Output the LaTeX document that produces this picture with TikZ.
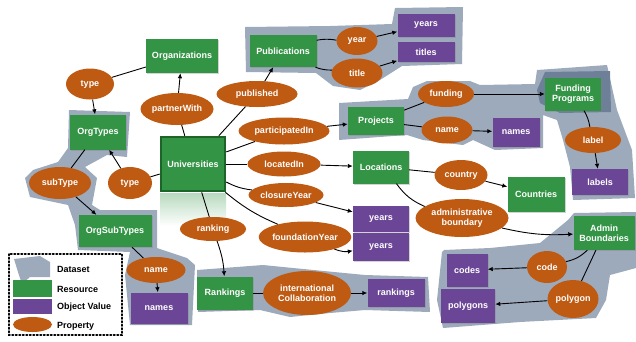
\documentclass[tikz,border=0pt]{standalone}
\usepackage{fontspec}
\setmainfont{Liberation Sans}
\usetikzlibrary{arrows.meta,shapes.geometric,shadows}
\definecolor{resgreen}{RGB}{52,148,70}
\definecolor{unigreen}{RGB}{28,100,40}
\definecolor{valpurple}{RGB}{108,70,150}
\definecolor{proporange}{RGB}{190,90,18}
\definecolor{blobgray}{RGB}{156,170,188}
\definecolor{blobdark}{RGB}{110,128,152}
\tikzset{
  lbl/.style={font=\fontsize{9}{10}\selectfont\bfseries, text=white, align=center, inner sep=1pt},
  res/.style={lbl, rectangle, fill=resgreen, drop shadow={shadow xshift=1pt,shadow yshift=-1pt,opacity=0.35}},
  val/.style={lbl, rectangle, fill=valpurple, drop shadow={shadow xshift=1pt,shadow yshift=-1pt,opacity=0.35}},
  prop/.style={lbl, ellipse, fill=proporange, inner sep=0pt},
  blob/.style={fill=blobgray, draw=none},
  link/.style={draw=black, line width=0.9pt},
  arr/.style={link, -{Latex[length=5pt,width=4.5pt]}},
  legtext/.style={font=\fontsize{9}{10}\selectfont\bfseries, anchor=west, inner sep=0pt}
}
\begin{document}
\begin{tikzpicture}[x=1pt,y=-1pt]
  \useasboundingbox (0,0) rectangle (636,341);
  % datasets
  \fill[blob] (245,27) -- (330,26) -- (392,24) -- (395,8) -- (463,7) -- (462,64) -- (402,66)
    -- (380,80) -- (360,90) -- (333,86) -- (316,73) -- (246,72) -- cycle;
  \fill[blob] (339,103) -- (408,99) -- (413,87) -- (427,81) -- (470,81) -- (480,85) -- (535,84)
    -- (537,70) -- (607,65) -- (617,110) -- (632,150) -- (635,198) -- (573,200) -- (570,167)
    -- (563,140) -- (557,120) -- (543,115) -- (543,148) -- (495,150) -- (473,140) -- (463,145)
    -- (423,140) -- (407,135) -- (339,140) -- cycle;
  \fill[blobdark] (537,90) -- (545,72) -- (610,71) -- (611,112) -- (560,113) -- (540,103) -- cycle;
  \fill[blob] (69,110) -- (130,112) -- (127,157) -- (107,155) -- (85,167) -- (97,178) -- (92,205)
    -- (100,210) -- (157,210) -- (157,248) -- (187,258) -- (195,265) -- (192,325) -- (130,325)
    -- (125,275) -- (130,252) -- (78,250) -- (75,225) -- (68,205) -- (30,197) -- (25,178)
    -- (33,170) -- (58,162) -- (68,148) -- cycle;
  \fill[blob] (197,270) -- (263,265) -- (293,268) -- (365,275) -- (428,277) -- (430,312)
    -- (365,310) -- (330,313) -- (290,317) -- (260,310) -- (198,312) -- cycle;
  \fill[blob] (444,250) -- (490,248) -- (540,243) -- (568,220) -- (574,213) -- (636,212)
    -- (636,268) -- (610,275) -- (606,300) -- (596,318) -- (520,322) -- (443,328)
    -- (437,300) -- (442,252) -- cycle;
  % reflection under the universities
  \shade[top color=resgreen!35, bottom color=white] (160,193) rectangle (226,226);
  % resources
  \node[res, minimum width=72pt, minimum height=34pt] (org) at (182,56) {Organizations};
  \node[res, minimum width=67pt, minimum height=32pt] (pub) at (283,51) {Publications};
  \node[res, minimum width=56pt, minimum height=35pt] (orgtypes) at (98,132) {OrgTypes};
  \node[res, draw=unigreen, line width=2.5pt, minimum width=64pt, minimum height=54pt] (uni) at (193,164) {Universities};
  \node[res, minimum width=56pt, minimum height=28pt] (proj) at (376,121) {Projects};
  \node[res, minimum width=56pt, minimum height=33pt] (fund) at (573,94) {Funding\\Programs};
  \node[res, minimum width=56pt, minimum height=33pt] (loc) at (381,167) {Locations};
  \node[res, minimum width=57pt, minimum height=35pt] (countries) at (536,194) {Countries};
  \node[res, minimum width=73pt, minimum height=32pt] (orgsubtypes) at (115,231) {OrgSubTypes};
  \node[res, minimum width=56pt, minimum height=33pt] (rankings) at (225,293) {Rankings};
  \node[res, minimum width=61pt, minimum height=34pt] (admin) at (604,233) {Admin\\Boundaries};
  % object values
  \node[val, minimum width=57pt, minimum height=23pt] (vyears) at (426,25) {years};
  \node[val, minimum width=57pt, minimum height=20pt] (vtitles) at (426,52) {titles};
  \node[val, minimum width=47pt, minimum height=29pt] (vnames) at (516,132) {names};
  \node[val, minimum width=56pt, minimum height=26pt] (vlabels) at (600,182) {labels};
  \node[val, minimum width=56pt, minimum height=26pt] (vclosure) at (381,219) {years};
  \node[val, minimum width=56pt, minimum height=28pt] (vfound) at (381,247) {years};
  \node[val, minimum width=57pt, minimum height=31pt] (vsubnames) at (159,308) {names};
  \node[val, minimum width=57pt, minimum height=28pt] (vrankings) at (396,293) {rankings};
  \node[val, minimum width=41pt, minimum height=33pt] (vcodes) at (467,270) {codes};
  \node[val, minimum width=54pt, minimum height=34pt] (vpolygons) at (468,306) {polygons};
  % properties
  \node[prop, minimum width=48pt, minimum height=31pt] (ptypeA) at (90,84) {type};
  \node[prop, minimum width=73pt, minimum height=32pt] (ppartner) at (177,109) {partnerWith};
  \node[prop, minimum width=81pt, minimum height=26pt] (ppublished) at (257,94) {published};
  \node[prop, minimum width=41pt, minimum height=28pt] (pyear) at (357,41) {year};
  \node[prop, minimum width=51pt, minimum height=29pt] (ptitle) at (357,73) {title};
  \node[prop, minimum width=91pt, minimum height=27pt] (ppartic) at (284,131) {participatedIn};
  \node[prop, minimum width=56pt, minimum height=26pt] (pfunding) at (446,94) {funding};
  \node[prop, minimum width=51pt, minimum height=27pt] (pname) at (447,130) {name};
  \node[prop, minimum width=56pt, minimum height=26pt] (plabel) at (593,140) {label};
  \node[prop, minimum width=73pt, minimum height=25pt] (plocated) at (284,164) {locatedIn};
  \node[prop, minimum width=75pt, minimum height=24pt] (pclosure) at (286,195) {closureYear};
  \node[prop, minimum width=91pt, minimum height=31pt] (pfound) at (305,237) {foundationYear};
  \node[prop, minimum width=66pt, minimum height=24pt] (pranking) at (213,229) {ranking};
  \node[prop, minimum width=44pt, minimum height=32pt] (ptypeB) at (130,183) {type};
  \node[prop, minimum width=62pt, minimum height=32pt] (psubtype) at (60,183) {subType};
  \node[prop, minimum width=59pt, minimum height=26pt] (psubname) at (156,270) {name};
  \node[prop, minimum width=88pt, minimum height=44pt] (pintl) at (307,293) {international\\Collaboration};
  \node[prop, minimum width=53pt, minimum height=30pt] (pcountry) at (461,175) {country};
  \node[prop, minimum width=93pt, minimum height=38pt] (padmin) at (462,218) {administrative\\boundary};
  \node[prop, minimum width=40pt, minimum height=32pt] (pcode) at (547,267) {code};
  \node[prop, minimum width=51pt, minimum height=38pt] (ppolygon) at (573,299) {polygon};
  % connectors
  \draw[link] (org) -- (ptypeA);
  \draw[arr] (ptypeA) -- (orgtypes);
  \draw[link] (uni) -- (ppartner);
  \draw[arr] (ppartner) -- (org);
  \draw[link] (uni) -- (ppublished);
  \draw[arr] (ppublished) -- (pub);
  \draw[link] (pub) to[bend left=10] (pyear);
  \draw[arr] (pyear) -- (vyears);
  \draw[link] (pub) to[bend right=10] (ptitle);
  \draw[arr] (ptitle) -- (vtitles);
  \draw[link] (uni) -- (ppartic);
  \draw[arr] (ppartic) -- (proj);
  \draw[link] (proj) -- (pfunding);
  \draw[arr] (pfunding) -- (fund);
  \draw[link] (proj) -- (pname);
  \draw[arr] (pname) -- (vnames);
  \draw[link] (fund) to[bend left=10] (plabel);
  \draw[arr] (plabel) -- (vlabels);
  \draw[link] (uni) -- (plocated);
  \draw[arr] (plocated) -- (loc);
  \draw[link] (loc) -- (pcountry);
  \draw[arr] (pcountry) -- (countries);
  \draw[link] (loc) to[bend right=15] (padmin);
  \draw[arr] (padmin) to[bend right=8] (admin);
  \draw[link] (admin) to[bend left=15] (pcode);
  \draw[arr] (pcode) -- (vcodes);
  \draw[link] (admin) -- (ppolygon);
  \draw[arr] (ppolygon) -- (vpolygons);
  \draw[link] (uni) to[bend right=10] (pclosure);
  \draw[arr] (pclosure) -- (vclosure);
  \draw[link] (uni) to[bend right=8] (pfound);
  \draw[arr] (pfound) to[bend right=15] (vfound);
  \draw[link] (uni) -- (pranking);
  \draw[arr] (pranking) to[bend left=8] (rankings);
  \draw[link] (rankings) -- (pintl);
  \draw[arr] (pintl) -- (vrankings);
  \draw[link] (uni) -- (ptypeB);
  \draw[arr] (ptypeB) -- (orgtypes);
  \draw[link] (orgtypes) -- (psubtype);
  \draw[arr] (psubtype) -- (orgsubtypes);
  \draw[link] (orgsubtypes) -- (psubname);
  \draw[arr] (psubname) -- (vsubnames);
  % legend
  \draw[line width=1.5pt, dotted, line cap=round] (9,254) rectangle (122,335);
  \fill[blob] (14,259) -- (40,256) -- (50,262) -- (50,277) -- (30,277) -- (22,284) -- (18,272) -- cycle;
  \fill[resgreen] (13,280) rectangle (52,297);
  \fill[valpurple] (13,299) rectangle (52,314);
  \fill[proporange] (32.5,324.5) ellipse [x radius=19.5pt, y radius=7.5pt];
  \node[legtext] (ldataset) at (57,269) {Dataset};
  \node[legtext] (lresource) at (57,289) {Resource};
  \node[legtext] (lvalue) at (57,307) {Object Value};
  \node[legtext] (lproperty) at (57,326) {Property};
\end{tikzpicture}
\end{document}
